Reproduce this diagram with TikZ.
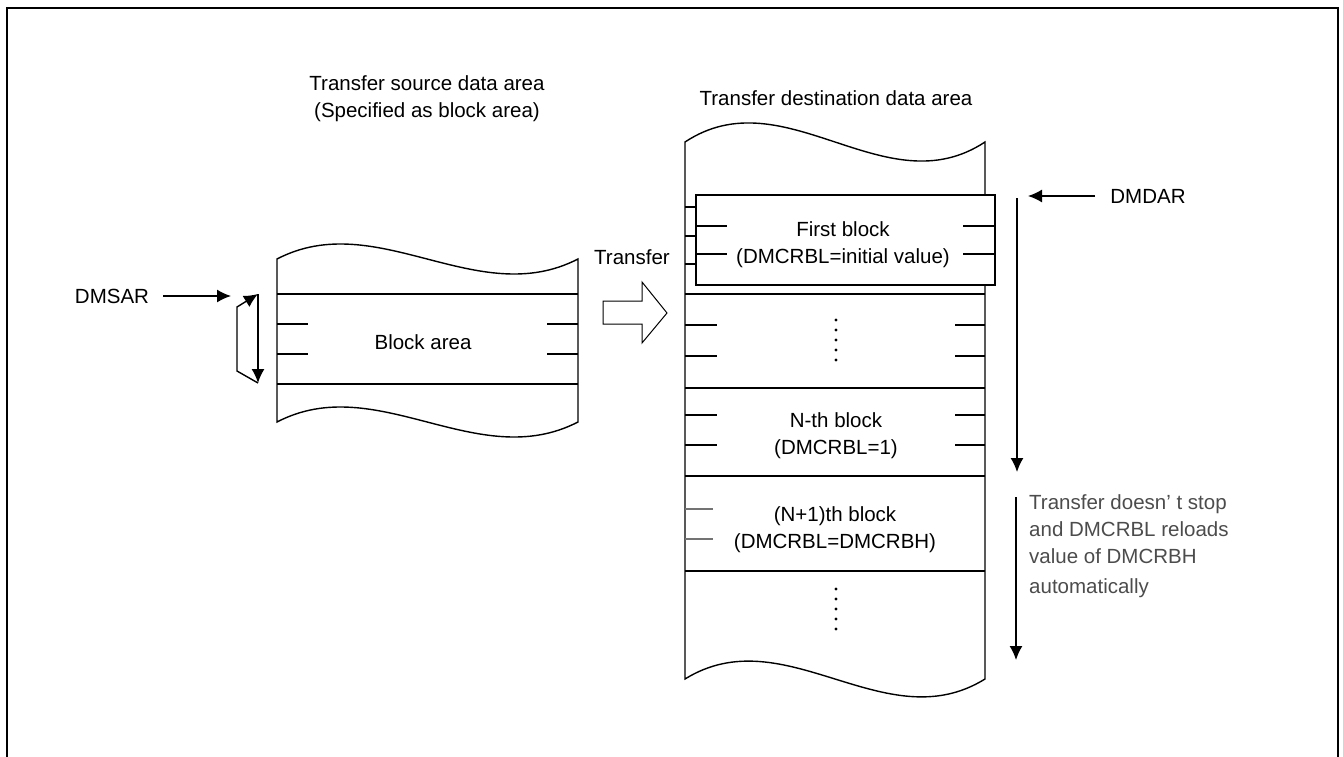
\documentclass[tikz,border=0pt]{standalone}
\usepackage{fontspec}
\setmainfont{Liberation Sans}
\usetikzlibrary{arrows.meta}

\begin{document}
\begin{tikzpicture}[
    x=1pt, y=-1pt,
    >={Latex[length=14pt,width=13pt]},
    font=\fontsize{20.5}{27}\selectfont,
    every node/.style={align=center, inner sep=0pt},
    edge/.style={line width=1.4pt},
    tick/.style={line width=1.2pt},
    graytick/.style={line width=1.2pt, draw=black!55},
    blockbox/.style={rectangle, draw, fill=white, line width=1.2pt},
    line/.style={->, line width=1.4pt},
    note/.style={align=left, text=black!70, anchor=north west}
]
\useasboundingbox (0,0) rectangle (1343,757);
% frame
\draw[line width=1.5pt] (7,757) -- (7,8) -- (1338,8) -- (1338,757);

% source data area
\node (srctitle) at (427,99) {Transfer source data area\\(Specified as block area)};
\draw[edge] (277,259) .. controls (377,207) and (477,311) .. (578,259)
    -- (578,422) .. controls (477,474) and (377,370) .. (277,422) -- cycle;
\draw[edge] (277,294) -- (578,294);
\draw[edge] (277,384) -- (578,384);
\foreach \y in {324,354} {
    \draw[tick] (277,\y) -- (308,\y);
    \draw[tick] (547,\y) -- (578,\y);
}
\node (blockarea) at (423,342) {Block area};

% source pointer
\node (dmsar) at (112,296) {DMSAR};
\coordinate (srcptr) at (231,296);
\coordinate (looptop) at (258,294);
\coordinate (loopbot) at (258,383);
\draw[line] ([xshift=14pt]dmsar.east) -- (srcptr);
\draw[line] (looptop) -- (loopbot);
\draw[line] (loopbot) -- (237,371) -- (237,307) -- (looptop);

% transfer arrow
\node (transfer) at (632,257) {Transfer};
\draw[line width=1pt] (603,301) -- (642,301) -- (642,282) -- (667,313)
    -- (642,343) -- (642,324) -- (603,324) -- cycle;

% destination data area
\node (dsttitle) at (836,98) {Transfer destination data area};
\draw[edge] (685,142) .. controls (785,76) and (885,208) .. (985,142)
    -- (985,679) .. controls (885,741) and (785,617) .. (685,679) -- cycle;
\foreach \y in {294,388,476,571}
    \draw[edge] (685,\y) -- (985,\y);
\foreach \y in {207,236,264}
    \draw[tick] (685,\y) -- (696,\y);
\foreach \y in {325,356,415,445} {
    \draw[tick] (685,\y) -- (717,\y);
    \draw[tick] (955,\y) -- (985,\y);
}
\foreach \y in {509,539}
    \draw[graytick] (685,\y) -- (713,\y);
\foreach \y in {320,330,...,360}
    \fill (836,\y) circle (1.7);
\foreach \y in {589,599,...,629}
    \fill (836,\y) circle (1.7);

% first block
\node[blockbox, minimum width=299pt, minimum height=90pt] (firstblk) at (845.5,240) {};
\foreach \y in {226,254} {
    \draw[tick] (696,\y) -- (727,\y);
    \draw[tick] (963,\y) -- (995,\y);
}
\node (firsttxt) at (843,245) {First block\\(DMCRBL=initial value)};
\node (nthtxt) at (836,436) {N-th block\\(DMCRBL=1)};
\node (nexttxt) at (835,530) {(N+1)th block\\(DMCRBL=DMCRBH)};

% destination pointer
\node (dmdar) at (1148,196) {DMDAR};
\coordinate (dstptr) at (1028,196);
\draw[line] ([xshift=-15pt]dmdar.west) -- (dstptr);
\coordinate (runtop) at (1017,198);
\coordinate (runend) at (1017,472);
\coordinate (reltop) at (1016,497);
\coordinate (relend) at (1016,660);
\draw[line] (runtop) -- (runend);
\draw[line] (reltop) -- (relend);
\node[note] (reload) at (1029,494) {Transfer doesn’ t stop\\and DMCRBL reloads\\value of DMCRBH\\[3pt]automatically};
\end{tikzpicture}
\end{document}
